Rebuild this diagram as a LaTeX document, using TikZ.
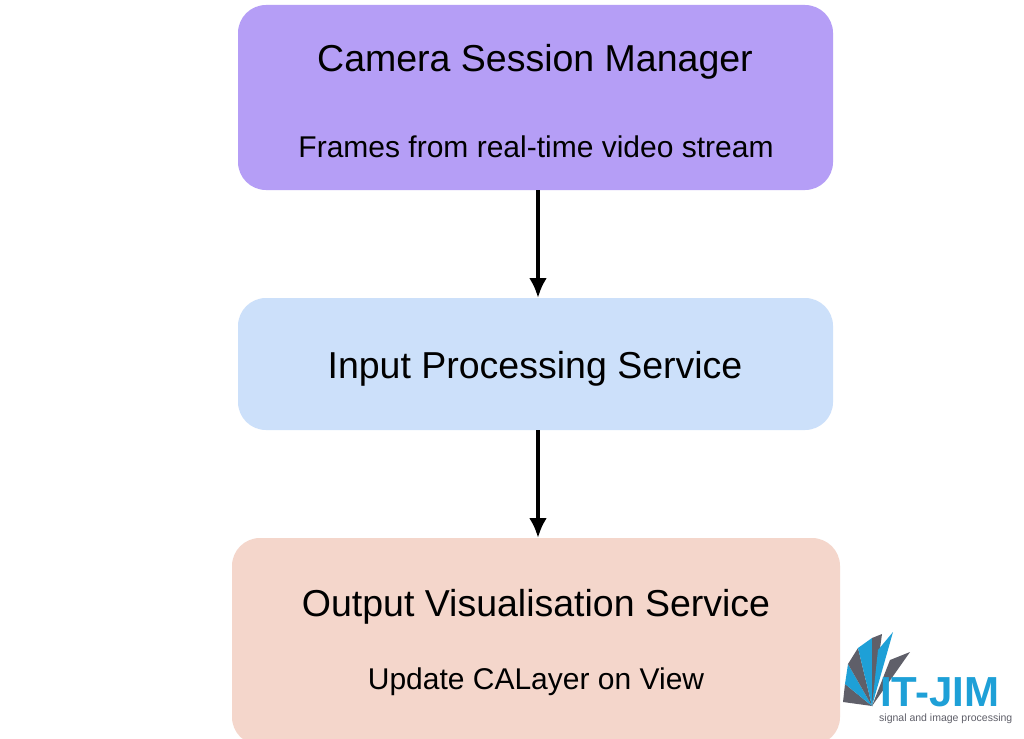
\documentclass[tikz,border=0pt]{standalone}
\usepackage{fontspec}
\usetikzlibrary{arrows.meta}
\setmainfont{Liberation Sans}
\begin{document}
\begin{tikzpicture}[x=1pt,y=-1pt,
 box/.style={rounded corners=28pt,draw=none},
 title/.style={font=\fontsize{37.5}{40}\selectfont},
 sub/.style={font=\fontsize{30}{32}\selectfont},
 arr/.style={-{Latex[length=20pt,width=18pt]},line width=4pt}]
\useasboundingbox (0,0) rectangle (1024,738);
\fill[box,fill=white] (0,0) rectangle (1024,738);
\fill[box,fill={rgb,255:red,181;green,158;blue,246}] (238,5) rectangle (833,190);
\fill[box,fill={rgb,255:red,204;green,224;blue,250}] (238,298) rectangle (833,430);
\fill[box,fill={rgb,255:red,244;green,214;blue,203}] (232,538) rectangle (840,745);
\coordinate (b1) at (538,190);
\coordinate (t2) at (538,298);
\coordinate (b2) at (538,430);
\coordinate (t3) at (538,538);
\node[title] (n1) at (535,62) {Camera Session Manager};
\node[sub] (s1) at (536,147) {Frames from real-time video stream};
\node[title] (n2) at (535,369) {Input Processing Service};
\node[title] (n3) at (536,607) {Output Visualisation Service};
\node[sub] (s3) at (536,682) {Update CALayer on View};
\draw[arr] (b1) -- (t2);
\draw[arr] (b2) -- (t3);
% logo
\definecolor{lb}{RGB}{30,160,215}\definecolor{lg}{RGB}{95,95,105}
\coordinate (o) at (872,706);
\fill[lg] (o) -- (843,702) -- (845,684) -- cycle;
\fill[lb] (o) -- (845,684) -- (848,664) -- cycle;
\fill[lg] (o) -- (848,664) -- (858,648) -- cycle;
\fill[lb] (o) -- (858,648) -- (872,638) -- cycle;
\fill[lg] (o) -- (872,638) -- (882,634) -- cycle;
\fill[lb] (o) -- (878,650) -- (893,632) -- cycle;
\fill[lg] (o) -- (890,660) -- (910,652) -- cycle;
\node[font=\fontsize{42}{42}\selectfont\bfseries,text=lb,anchor=west,inner sep=0] (logo) at (880,692) {IT-JIM};
\node[font=\fontsize{10.5}{11}\selectfont,text=lg,anchor=west,inner sep=0] (logos) at (879,719) {signal and image processing};
\end{tikzpicture}
\end{document}
